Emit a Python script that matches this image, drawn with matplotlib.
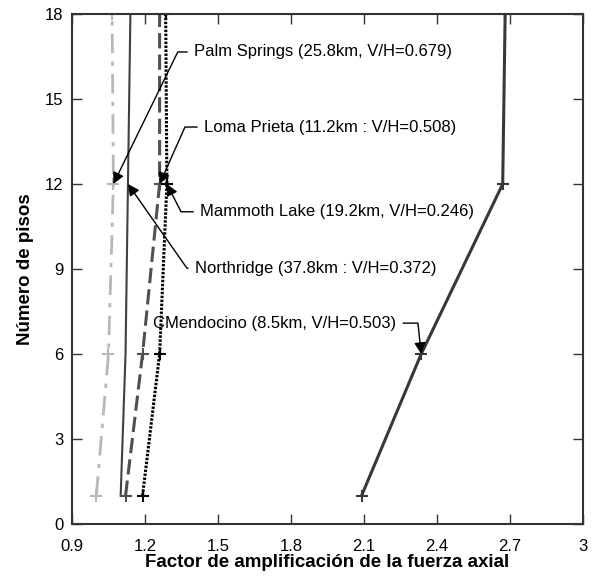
import matplotlib
matplotlib.use("Agg")
import matplotlib.pyplot as plt

plt.rcParams['font.family'] = ['Liberation Sans', 'DejaVu Sans']

# data
pisos = [1, 6, 12, 18]
palm_springs = [1.00, 1.05, 1.07, 1.065]
northridge = [1.10, 1.12, 1.13, 1.14]
loma_prieta = [1.12, 1.19, 1.26, 1.26]
mammoth = [1.19, 1.26, 1.29, 1.285]
mendocino = [2.09, 2.335, 2.67, 2.68]

xticks = [0.9, 1.2, 1.5, 1.8, 2.1, 2.4, 2.7, 3.0]
xticklabels = ["0.9", "1.2", "1.5", "1.8", "2.1", "2.4", "2.7", "3"]
yticks = [0, 3, 6, 9, 12, 15, 18]

fig = plt.figure(figsize=(5.94, 5.78), dpi=100)
ax = fig.add_axes([0.1212, 0.0934, 0.8603, 0.8824])

ax.plot(palm_springs, pisos, color="#b8b8b8", lw=2, ls=(0, (7, 3, 1.5, 3)),
        marker="+", ms=8, mew=1.5)
ax.plot(northridge, pisos, color="#404040", lw=1.5, ls="-")
ax.plot(loma_prieta, pisos, color="#505050", lw=2.2, ls=(0, (5, 2)),
        marker="+", ms=8, mew=1.5)
ax.plot(mammoth, pisos, color="black", lw=2.2, ls=(0, (0.8, 0.5)),
        marker="+", ms=8, mew=1.5)
ax.plot(mendocino, pisos, color="#383838", lw=2.2, ls="-",
        marker="+", ms=8, mew=1.5)

# annotations: text, point x, point y, text x, text y, angleB
notes = [
    ("Palm Springs (25.8km, V/H=0.679)", palm_springs[2], pisos[2], 1.402, 16.66, 64),
    ("Loma Prieta (11.2km : V/H=0.508)", loma_prieta[2], pisos[2], 1.443, 14.01, 66),
    ("Mammoth Lake (19.2km, V/H=0.246)", mammoth[2], pisos[2], 1.427, 11.02, -63),
    ("Northridge (37.8km : V/H=0.372)", northridge[2], pisos[2], 1.406, 9.03, -55),
    ("CMendocino (8.5km, V/H=0.503)", mendocino[1], pisos[1], 1.233, 7.09, 96),
]
for text, px, py, tx, ty, angB in notes:
    ax.annotate(text, xy=(px, py), xytext=(tx, ty), ha="left", va="center",
                fontsize=12, color="black",
                arrowprops=dict(arrowstyle="-|>", color="black", lw=1,
                                mutation_scale=17, shrinkA=3, shrinkB=0,
                                connectionstyle=f"angle,angleA=0,angleB={angB},rad=0"))

ax.set_xlim(0.9, 3.0)
ax.set_ylim(0, 18)
ax.set_xticks(xticks)
ax.set_xticklabels(xticklabels)
ax.set_yticks(yticks)
ax.tick_params(direction="in", length=7, width=1, top=True, right=True,
               labelsize=12, colors="#333333", labelcolor="black", pad=6)
ax.tick_params(axis="x", pad=11)
for s in ax.spines.values():
    s.set_linewidth(1.5)
    s.set_color("#333333")

ax.set_xlabel("Factor de amplificación de la fuerza axial", fontsize=13.5,
              fontweight="bold", labelpad=0)
ax.set_ylabel("Número de pisos", fontsize=13.5, fontweight="bold", labelpad=8)

fig.savefig("out.png", dpi=100)
